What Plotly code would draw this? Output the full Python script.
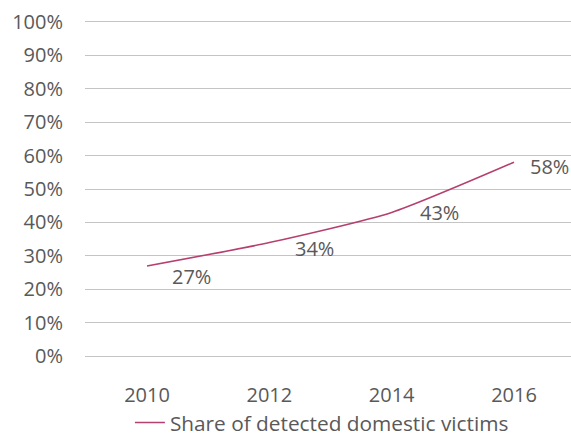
import plotly.graph_objects as go

years = ["2010", "2012", "2014", "2016"]
share = [27, 34, 43, 58]
value_labels = ["27%", "34%", "43%", "58%"]
series_name = "Share of detected domestic victims"
y_ticks = [0, 10, 20, 30, 40, 50, 60, 70, 80, 90, 100]
y_ticktext = [f"{v}%" for v in y_ticks]

label_xshift = [44, 45, 48, 35]
label_yshift = [-11, -6, 0, -4]

GRAY = "#595959"
LINE = "#B5406F"
FONT = "Open Sans"
FS = 20

fig = go.Figure()
fig.add_trace(go.Scatter(
    x=years, y=share, mode="lines", name=series_name,
    line=dict(color=LINE, width=1.6, shape="spline", smoothing=0.6),
    hoverinfo="skip",
))

for i, (y, t, dx, dy) in enumerate(zip(share, value_labels, label_xshift, label_yshift)):
    fig.add_annotation(x=i, y=y, xref="x", yref="y", text=t, showarrow=False,
                       xshift=dx, yshift=dy,
                       font=dict(family=FONT, size=FS, color=GRAY))

fig.update_layout(
    width=571, height=436,
    margin=dict(l=85, r=0, t=20, b=78, autoexpand=False),
    paper_bgcolor="white", plot_bgcolor="white",
    font=dict(family=FONT, size=FS, color=GRAY),
    showlegend=True,
    legend=dict(orientation="h", xref="container", yref="container",
                x=0.2275, xanchor="left", y=0.03, yanchor="middle",
                font=dict(family=FONT, size=20.8, color=GRAY),
                bgcolor="rgba(0,0,0,0)"),
    xaxis=dict(type="category", range=[-0.507, 3.466], showgrid=False,
               showline=False, zeroline=False,
               ticks="outside", ticklen=19, tickcolor="rgba(0,0,0,0)",
               tickfont=dict(family=FONT, size=FS, color=GRAY)),
    yaxis=dict(range=[-0.5, 100.5], tickmode="array", tickvals=y_ticks, ticktext=y_ticktext,
               showgrid=True, gridcolor="#C4C4C4", gridwidth=1,
               zeroline=False, showline=False,
               ticks="outside", ticklen=17, tickcolor="rgba(0,0,0,0)",
               tickfont=dict(family=FONT, size=FS, color=GRAY)),
)

fig.write_html("out.html", config={"displayModeBar": False},
               post_script="document.body.style.margin='0';document.body.style.overflow='hidden';")
